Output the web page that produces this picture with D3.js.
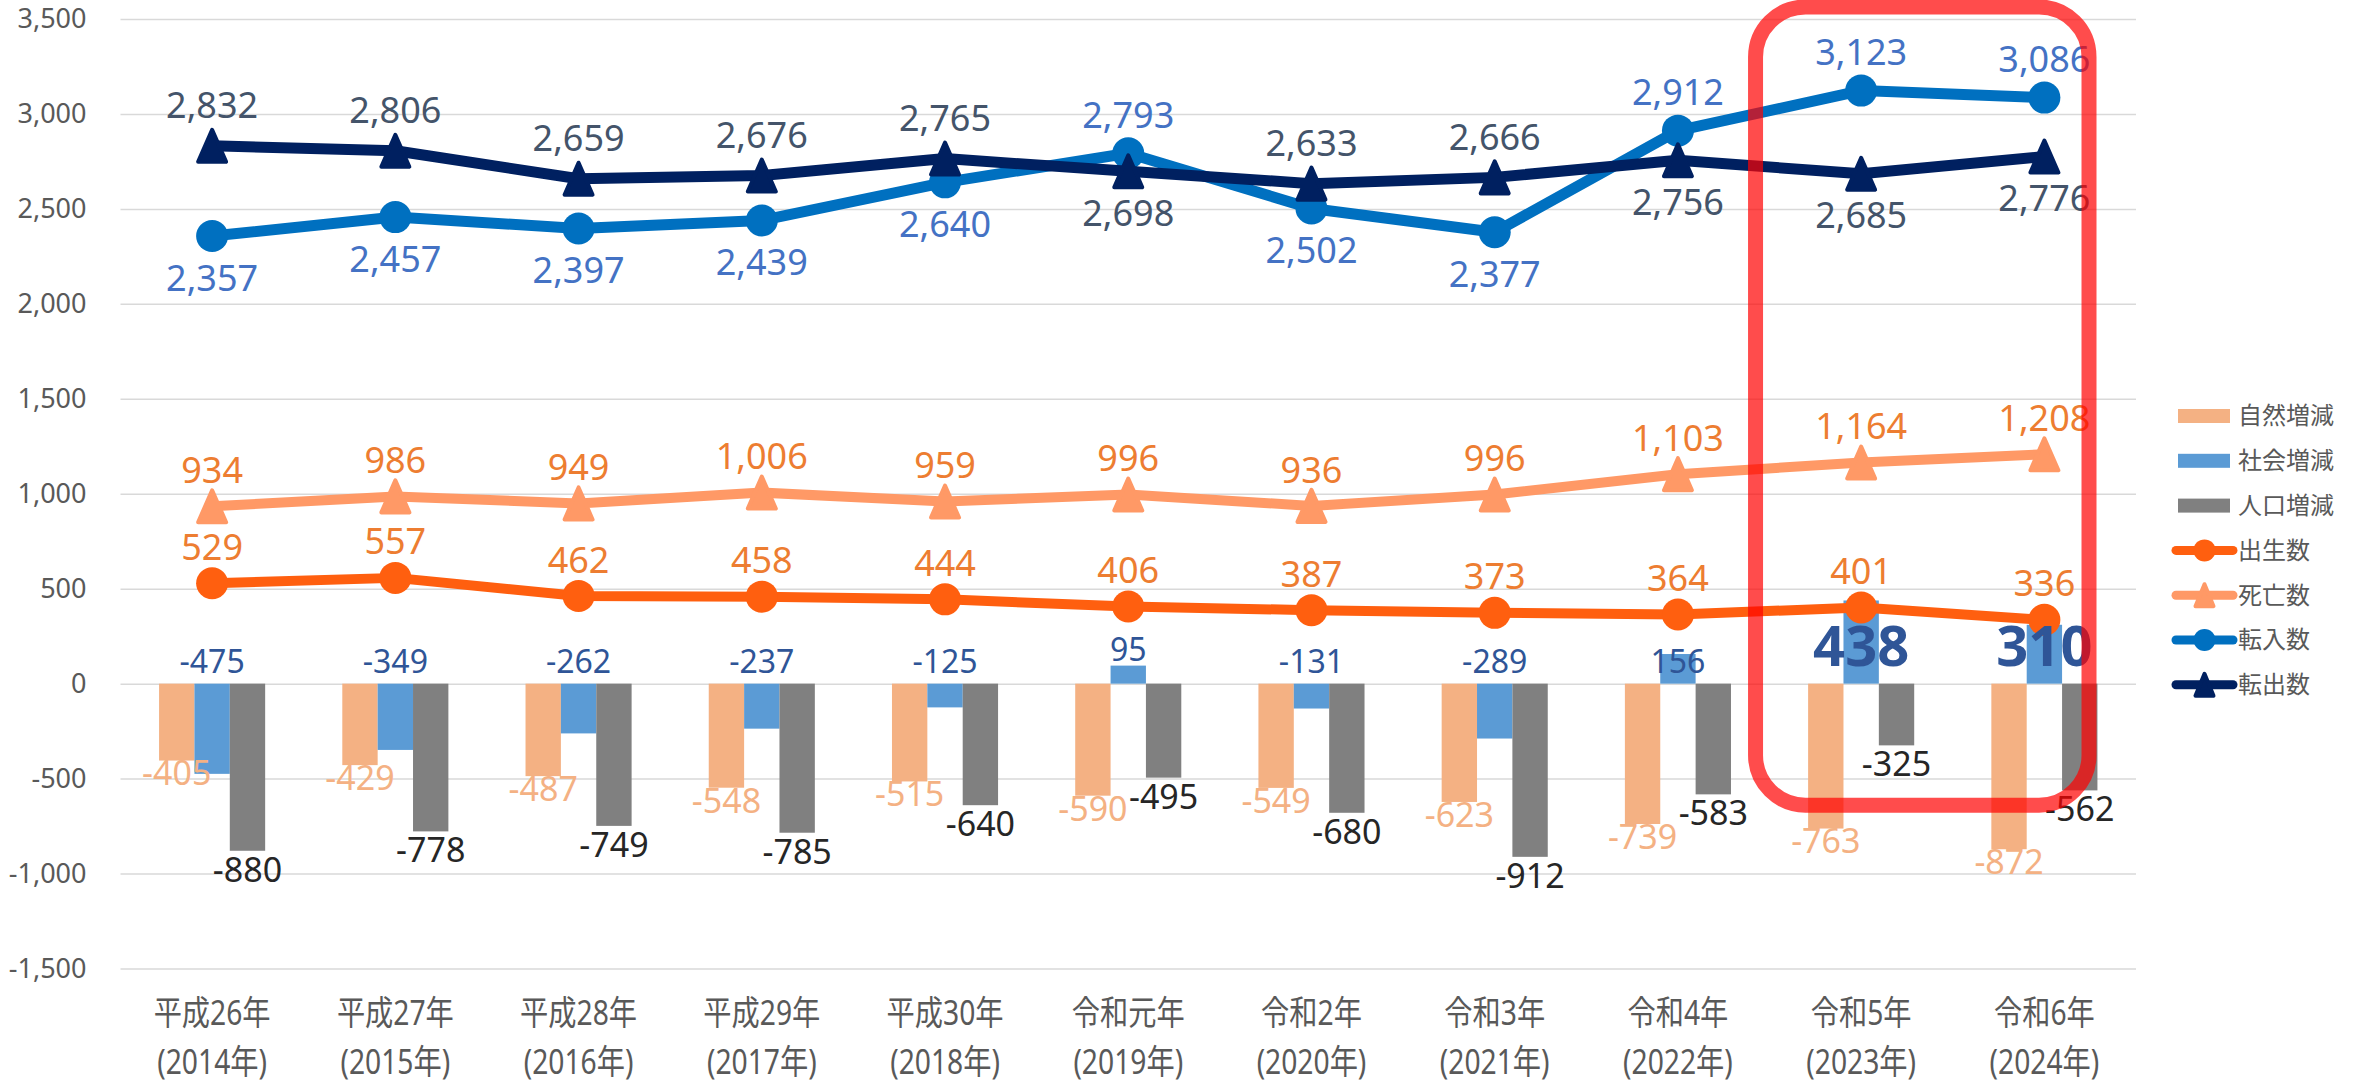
<!DOCTYPE html>
<html lang="ja">
<head>
<meta charset="utf-8">
<script src="https://cdn.jsdelivr.net/npm/d3@7"></script>
<style>
  body { margin: 0; background: #fff; }
  svg text { font-family: "Noto Sans", "Noto Sans CJK JP", sans-serif; }
</style>
</head>
<body>
<div id="chart"></div>
<script>
// categories and values
const categories = ["平成26年", "平成27年", "平成28年", "平成29年", "平成30年", "令和元年", "令和2年", "令和3年", "令和4年", "令和5年", "令和6年"];
const years = ["(2014年)", "(2015年)", "(2016年)", "(2017年)", "(2018年)", "(2019年)", "(2020年)", "(2021年)", "(2022年)", "(2023年)", "(2024年)"];
const shizen = [-405, -429, -487, -548, -515, -590, -549, -623, -739, -763, -872];   // 自然増減
const shakai = [-475, -349, -262, -237, -125, 95, -131, -289, 156, 438, 310];        // 社会増減
const jinko = [-880, -778, -749, -785, -640, -495, -680, -912, -583, -325, -562];    // 人口増減
const births = [529, 557, 462, 458, 444, 406, 387, 373, 364, 401, 336];              // 出生数
const deaths = [934, 986, 949, 1006, 959, 996, 936, 996, 1103, 1164, 1208];          // 死亡数
const movedIn = [2357, 2457, 2397, 2439, 2640, 2793, 2502, 2377, 2912, 3123, 3086];  // 転入数
const movedOut = [2832, 2806, 2659, 2676, 2765, 2698, 2633, 2666, 2756, 2685, 2776]; // 転出数
const yTicks = [-1500, -1000, -500, 0, 500, 1000, 1500, 2000, 2500, 3000, 3500];
const highlight = ["令和5年", "令和6年"];

const width = 2354, height = 1088;
const plot = {left: 120.5, right: 2136, top: 19, bottom: 968.5};

const svg = d3.select("#chart")
  .append("svg")
  .attr("width", width)
  .attr("height", height);

const x = d3.scaleBand().domain(categories).range([plot.left, plot.right]);
const y = d3.scaleLinear().domain([-1500, 3500]).range([plot.bottom, plot.top]);
const bw = x.bandwidth();
const barW = bw * 0.193;
const cx = i => x(categories[i]) + bw / 2;

// hyphen minus, not the unicode one d3 uses
const fmt = v => (v < 0 ? "-" : "") + d3.format(",")(Math.abs(v));

// Y axis + gridlines
const yAxis = svg.append("g")
  .attr("transform", `translate(${plot.left}, 0)`)
  .call(d3.axisLeft(y).tickValues(yTicks).tickFormat(fmt)
    .tickSize(-(plot.right - plot.left)).tickPadding(34));
yAxis.select(".domain").remove();
yAxis.selectAll("line").attr("stroke", "#d9d9d9").attr("stroke-width", 1.5);
yAxis.selectAll("text")
  .attr("fill", "#595959")
  .style("font-size", "27px");

// X axis, two lines per category
const xAxis = svg.append("g")
  .attr("transform", `translate(0, ${plot.bottom})`)
  .call(d3.axisBottom(x).tickSize(0));
xAxis.select(".domain").remove();
xAxis.selectAll("text").each(function(d, i) {
  const t = d3.select(this)
    .text(null)
    .attr("y", null).attr("dy", null)
    .attr("fill", "#595959")
    .attr("transform", "scale(0.83,1)")
    .style("font-size", "34px");
  t.append("tspan").attr("x", 0).attr("y", 45).attr("dy", "0.35em").text(d);
  t.append("tspan").attr("x", 0).attr("y", 94).attr("dy", "0.35em").text(years[i]);
});

// bars
const barSeries = [
  {name: "自然増減", values: shizen, color: "#f4b183"},
  {name: "社会増減", values: shakai, color: "#5b9bd5"},
  {name: "人口増減", values: jinko, color: "#808080"}
];
barSeries.forEach(function(s, k) {
  svg.append("g")
    .selectAll("rect")
    .data(s.values)
    .join("rect")
    .attr("x", (d, i) => cx(i) + (k - 1) * barW - barW / 2)
    .attr("width", barW)
    .attr("y", d => y(Math.max(d, 0)))
    .attr("height", d => Math.abs(y(d) - y(0)))
    .attr("fill", s.color);
});

// lines
const lineSeries = [
  {name: "出生数", values: births, color: "#ff5f0f", marker: "circle", w: 10},
  {name: "死亡数", values: deaths, color: "#ff9966", marker: "triangle", w: 10},
  {name: "転入数", values: movedIn, color: "#0070c0", marker: "circle", w: 11},
  {name: "転出数", values: movedOut, color: "#002060", marker: "triangle", w: 11}
];

const tri = (w, h) => `M0,${-h / 2}L${w / 2},${h / 2}L${-w / 2},${h / 2}Z`;

function drawMarker(g, type, color, size) {
  if (type === "circle") {
    g.append("circle").attr("r", size / 2).attr("fill", color);
  } else {
    g.append("path")
      .attr("d", tri(size - 4, size))
      .attr("fill", color)
      .attr("stroke", color)
      .attr("stroke-width", 4)
      .attr("stroke-linejoin", "round");
  }
}

const line = d3.line().x((d, i) => cx(i)).y(d => y(d));
lineSeries.forEach(function(s) {
  svg.append("path")
    .datum(s.values)
    .attr("d", line)
    .attr("fill", "none")
    .attr("stroke", s.color)
    .attr("stroke-width", s.w)
    .attr("stroke-linejoin", "round");
  svg.append("g")
    .selectAll("g")
    .data(s.values)
    .join("g")
    .attr("transform", (d, i) => `translate(${cx(i)}, ${y(d)})`)
    .each(function() { drawMarker(d3.select(this), s.marker, s.color, 32); });
});

// data labels
const labels = svg.append("g").attr("text-anchor", "middle");

function addLabels(values, color, size, xOff, yPos, bold) {
  labels.append("g")
    .selectAll("text")
    .data(values)
    .join("text")
    .attr("x", (d, i) => cx(i) + xOff)
    .attr("y", (d, i) => yPos(d, i))
    .attr("dy", "0.35em")
    .attr("fill", color)
    .style("font-size", typeof size === "function" ? size : () => size)
    .style("font-weight", bold || null)
    .text(fmt);
}

const isHi = i => highlight.includes(categories[i]);

addLabels(shizen, "#f4b183", "34px", -barW, d => y(d) + 13);
addLabels(jinko, "#262626", "34px", barW, d => y(d) + 19);
addLabels(shakai, "#2f5597",
  (d, i) => isHi(i) ? "56px" : "32px", 0,
  (d, i) => isHi(i) ? y(0) - 37 : (d > 0 && d < 120 ? y(d) - 16 : y(0) - 22),
  (d, i) => isHi(i) ? "bold" : null);
addLabels(births, "#ed7d31", "36px", 0, d => y(d) - 36);
addLabels(deaths, "#ed7d31", "36px", 0, d => y(d) - 36);
addLabels(movedIn, "#4472c4", "36px", 0,
  (d, i) => d > movedOut[i] ? y(d) - 38 : y(d) + 42);
addLabels(movedOut, "#44546a", "36px", 0,
  (d, i) => d >= movedIn[i] ? y(d) - 40 : y(d) + 42);

// legend
const legendItems = barSeries.map(s => ({name: s.name, color: s.color, type: "bar"}))
  .concat(lineSeries.map(s => ({name: s.name, color: s.color, type: s.marker})));
const legend = svg.append("g")
  .selectAll("g")
  .data(legendItems)
  .join("g")
  .attr("transform", (d, i) => `translate(2178, ${416 + i * 44.8})`);
legend.each(function(d) {
  const g = d3.select(this);
  if (d.type === "bar") {
    g.append("rect").attr("x", 0).attr("y", -7).attr("width", 52).attr("height", 14).attr("fill", d.color);
  } else {
    g.append("line").attr("x1", -2).attr("x2", 55)
      .attr("stroke", d.color).attr("stroke-width", 9).attr("stroke-linecap", "round");
    const m = g.append("g").attr("transform", "translate(26.5, 0)");
    drawMarker(m, d.type, d.color, 22);
  }
  g.append("text")
    .attr("x", 60)
    .attr("dy", "0.35em")
    .attr("fill", "#595959")
    .style("font-size", "24px")
    .text(d.name);
});

// red highlight frame around the last two years
const i0 = categories.indexOf(highlight[0]);
const i1 = categories.indexOf(highlight[highlight.length - 1]);
const boxLeft = x(categories[i0]) - 14;
const boxRight = x(categories[i1]) + bw - 47;
svg.append("rect")
  .attr("x", boxLeft)
  .attr("y", y(3500) - 12)
  .attr("width", boxRight - boxLeft)
  .attr("height", y(-640) - (y(3500) - 12))
  .attr("rx", 50)
  .attr("fill", "none")
  .attr("stroke", "#ff0000")
  .attr("stroke-width", 15)
  .attr("opacity", 0.7);
</script>
</body>
</html>
